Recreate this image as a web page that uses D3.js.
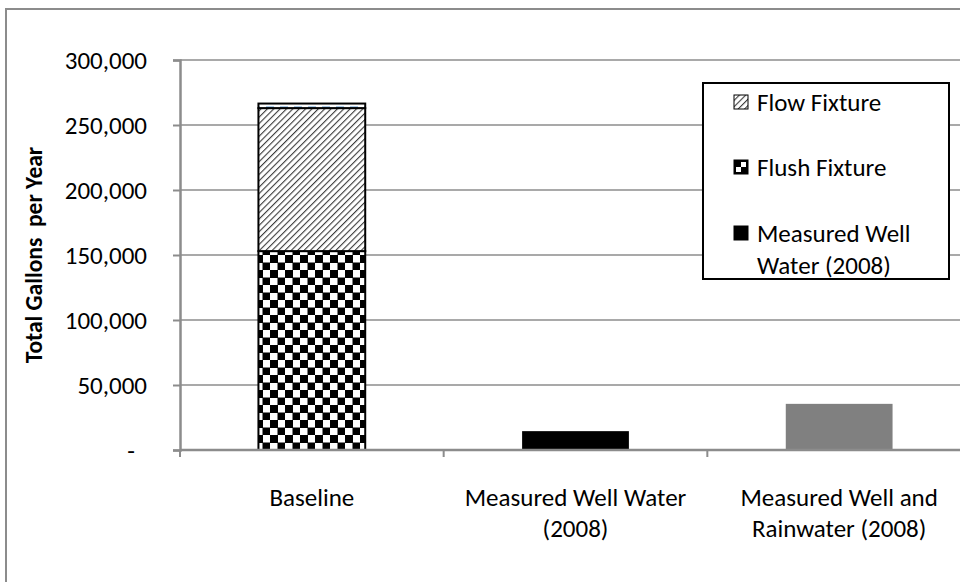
<!DOCTYPE html>
<html>
<head>
<meta charset="utf-8">
<script src="https://cdn.jsdelivr.net/npm/d3@7"></script>
<style>
  body { margin: 0; background: #fff; }
  svg { display: block; font-family: Carlito, Calibri, Lato, sans-serif; }
</style>
</head>
<body>
<svg width="960" height="582"></svg>
<script>
var categories = ["Baseline", "Measured Well Water (2008)", "Measured Well and Rainwater (2008)"];
var categoryLines = [["Baseline"], ["Measured Well Water", "(2008)"], ["Measured Well and", "Rainwater (2008)"]];

// stacked series, bottom to top
var flushFixture = [153000, 0, 0];
var flowFixture = [110000, 0, 0];
var otherBaseline = [3500, 0, 0];
var wellWater = [0, 14500, 0];
var wellRainwater = [0, 0, 35500];

var yTicks = [0, 50000, 100000, 150000, 200000, 250000, 300000];
var legendItems = [["Flow Fixture"], ["Flush Fixture"], ["Measured Well", "Water (2008)"]];

var series = [
  {key: "flush", values: flushFixture, fill: "url(#checker)", stroke: "#000"},
  {key: "flow", values: flowFixture, fill: "url(#hatch)", stroke: "#000"},
  {key: "other", values: otherBaseline, fill: "url(#bluedash)", stroke: "#000"},
  {key: "well", values: wellWater, fill: "#000", stroke: "none"},
  {key: "rain", values: wellRainwater, fill: "#808080", stroke: "none"}
];

var rows = categories.map(function(c, i) {
  var r = {cat: c};
  series.forEach(function(s) { r[s.key] = s.values[i]; });
  return r;
});

var svg = d3.select("svg");
var defs = svg.append("defs");

var p = defs.append("pattern").attr("id", "checker").attr("patternUnits", "userSpaceOnUse")
    .attr("width", 15).attr("height", 15);
p.append("rect").attr("width", 15).attr("height", 15).attr("fill", "#fff");
p.append("rect").attr("width", 8).attr("height", 8).attr("fill", "#000");
p.append("rect").attr("x", 7.5).attr("y", 7.5).attr("width", 8).attr("height", 8).attr("fill", "#000");

var h = defs.append("pattern").attr("id", "hatch").attr("patternUnits", "userSpaceOnUse")
    .attr("width", 4.5).attr("height", 4.5).attr("patternTransform", "rotate(45)");
h.append("rect").attr("width", 4.5).attr("height", 4.5).attr("fill", "#fff");
h.append("line").attr("x1", 0).attr("y1", 0).attr("x2", 0).attr("y2", 4.5)
    .attr("stroke", "#3a3a3a").attr("stroke-width", 2.2);

var b = defs.append("pattern").attr("id", "bluedash").attr("patternUnits", "userSpaceOnUse")
    .attr("width", 14).attr("height", 5);
b.append("rect").attr("width", 14).attr("height", 5).attr("fill", "#fff");
b.append("rect").attr("x", 0).attr("y", 1.5).attr("width", 8).attr("height", 2).attr("fill", "#5b9bd5");

// outer chart border
svg.append("rect").attr("x", 6).attr("y", 9).attr("width", 1000).attr("height", 620)
    .attr("fill", "none").attr("stroke", "#8c8c8c").attr("stroke-width", 2);

var x = d3.scaleBand().domain(categories).range([180, 971])
    .paddingInner(0.595).paddingOuter(0.2975);
var y = d3.scaleLinear().domain([0, 300000]).range([450, 60]);

// gridlines
svg.append("g").selectAll("line").data(yTicks.slice(1)).enter().append("line")
    .attr("x1", 180).attr("x2", 971)
    .attr("y1", function(d) { return y(d); }).attr("y2", function(d) { return y(d); })
    .attr("stroke", "#8c8c8c").attr("stroke-width", 1.5);

// y axis
var yAxis = svg.append("g").attr("transform", "translate(180,0)")
    .call(d3.axisLeft(y).tickValues(yTicks).tickSize(7).tickPadding(26)
      .tickFormat(function(d) { return d === 0 ? "-" : d3.format(",")(d); }));
yAxis.select(".domain").attr("stroke", "#8c8c8c").attr("stroke-width", 2.5);
yAxis.selectAll(".tick line").attr("stroke", "#8c8c8c").attr("stroke-width", 2);
yAxis.selectAll(".tick text").attr("font-size", 25).attr("fill", "#000")
    .attr("font-family", "Carlito, Calibri, Lato, sans-serif")
    .attr("dx", function(d) { return d === 0 ? -12 : 0; });

// stacked bars
var stack = d3.stack().keys(series.map(function(s) { return s.key; }));
var layers = stack(rows);
layers.forEach(function(layer, i) {
  var s = series[i];
  svg.append("g").selectAll("rect").data(layer.filter(function(d) { return d[1] > d[0]; }))
    .enter().append("rect")
    .attr("x", function(d) { return x(d.data.cat); })
    .attr("width", x.bandwidth())
    .attr("y", function(d) { return y(d[1]); })
    .attr("height", function(d) { return y(d[0]) - y(d[1]); })
    .attr("fill", s.fill)
    .attr("stroke", s.stroke).attr("stroke-width", 2);
});

// x axis line and ticks at category boundaries
var bounds = d3.range(categories.length + 1).map(function(i) { return x.range()[0] + i * x.step(); });
svg.append("line").attr("x1", 180).attr("x2", 971).attr("y1", y(0)).attr("y2", y(0))
    .attr("stroke", "#8c8c8c").attr("stroke-width", 2.5);
svg.append("g").selectAll("line").data(bounds).enter().append("line")
    .attr("x1", function(d) { return d; }).attr("x2", function(d) { return d; })
    .attr("y1", y(0)).attr("y2", y(0) + 7)
    .attr("stroke", "#8c8c8c").attr("stroke-width", 2);

// category labels
var xl = svg.append("g").selectAll("text").data(categories).enter().append("text")
    .attr("text-anchor", "middle").attr("font-size", 25).attr("fill", "#000")
    .attr("x", function(d) { return x(d) + x.bandwidth() / 2; });
xl.each(function(d, i) {
  var t = d3.select(this);
  categoryLines[i].forEach(function(line, j) {
    t.append("tspan").attr("x", x(d) + x.bandwidth() / 2).attr("y", 506 + j * 31).text(line);
  });
});

// y axis title
svg.append("text").attr("transform", "translate(42," + (y(150000)) + ") rotate(-90)")
    .attr("text-anchor", "middle").attr("font-size", 23.5).attr("font-weight", "bold")
    .attr("xml:space", "preserve")
    .text("Total Gallons  per Year");

// legend
var lg = svg.append("g");
lg.append("rect").attr("x", 703).attr("y", 83).attr("width", 246).attr("height", 196)
    .attr("fill", "#fff").attr("stroke", "#000").attr("stroke-width", 2);
var legendFill = ["url(#hatch)", "url(#checker2)", "#000"];
var c2 = defs.append("pattern").attr("id", "checker2").attr("patternUnits", "objectBoundingBox")
    .attr("width", 1).attr("height", 1);
c2.append("rect").attr("width", 14).attr("height", 14).attr("fill", "#000");
c2.append("rect").attr("x", 2).attr("y", 7).attr("width", 5).attr("height", 5).attr("fill", "#fff");
c2.append("rect").attr("x", 7).attr("y", 2).attr("width", 5).attr("height", 5).attr("fill", "#fff");
var legendY = [102, 167, 233];
legendItems.forEach(function(lines, i) {
  lg.append("rect").attr("x", 734).attr("y", legendY[i] - 7).attr("width", 14).attr("height", 14)
    .attr("fill", legendFill[i]).attr("stroke", "#000").attr("stroke-width", 1);
  var t = lg.append("text").attr("font-size", 25).attr("fill", "#000");
  lines.forEach(function(line, j) {
    t.append("tspan").attr("x", 757).attr("y", legendY[i] + 9 + j * 32).text(line);
  });
});
</script>
</body>
</html>
